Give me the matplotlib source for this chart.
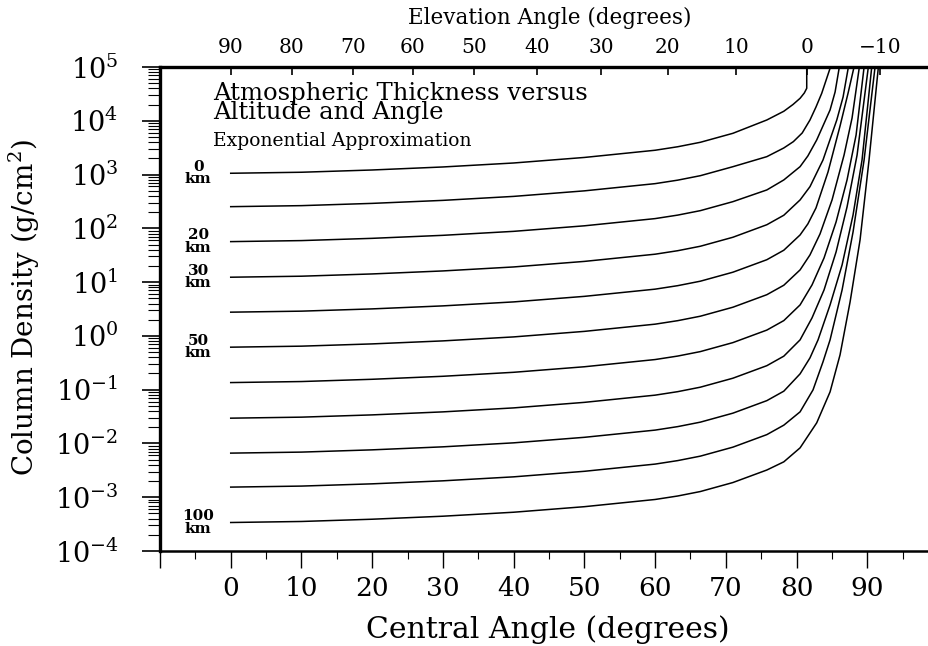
import numpy as np
import matplotlib
matplotlib.use("Agg")
import matplotlib.pyplot as plt
from matplotlib.ticker import LogLocator, LogFormatterMathtext, FixedLocator, MultipleLocator, NullFormatter

plt.rcParams['font.family'] = ['DejaVu Serif']
plt.rcParams['mathtext.fontset'] = 'dejavuserif'

# ---- data: central angle (deg) and column density (g/cm^2)
col_0km_x = [0, 10, 20, 30, 40, 50, 60, 63.2, 66.4, 71.0, 75.8, 78.2, 79.5, 80.5, 81.1, 81.44, 81.44]
col_0km = [1057, 1104, 1216, 1384, 1641, 2080, 2831, 3289, 3981, 5848, 10350, 15030, 20090, 26180, 32890, 40180, 1e5]

col_10km_x = [0, 10, 20, 30, 40, 50, 60, 63.2, 66.4, 71.0, 75.8, 78.2, 79.55, 80.8, 81.9, 82.75, 83.56, 84.8]
col_10km = [252.9, 264.2, 291.1, 331.1, 392.6, 497.7, 677.6, 787.0, 952.8, 1400, 2153, 3123, 4093, 5929, 10350, 18050, 32430, 1e5]

col_20km_x = [0, 10, 20, 30, 40, 50, 60, 63.2, 66.4, 71.0, 75.8, 78.2, 80.5, 81.6, 82.85, 84.74, 85.45, 86.05]
col_20km = [56.62, 59.16, 65.16, 74.13, 87.90, 111.4, 151.7, 176.2, 213.3, 313.3, 517.6, 794.3, 1403, 2218, 4395, 15890, 34280, 1e5]

col_30km_x = [0, 10, 20, 30, 40, 50, 60, 63.2, 66.4, 71.0, 75.8, 78.2, 80.5, 81.9, 83.74, 85.69, 86.58, 87.33]
col_30km = [12.33, 12.88, 14.19, 16.14, 19.14, 24.27, 33.04, 38.37, 46.45, 68.23, 116.7, 175.2, 337.3, 595.7, 1866, 10350, 27670, 1e5]

col_40km_x = [0, 10, 20, 30, 40, 50, 60, 63.2, 66.4, 71.0, 75.8, 78.2, 80.5, 81.6, 82.75, 84.45, 86.15, 87.29, 88.13]
col_40km = [2.761, 2.884, 3.177, 3.614, 4.285, 5.433, 7.396, 8.590, 10.40, 15.28, 26.09, 39.17, 75.34, 120.8, 239.3, 1117, 7998, 32890, 1e5]

col_50km_x = [0, 10, 20, 30, 40, 50, 60, 63.2, 66.4, 71.0, 75.8, 78.2, 80.5, 81.9, 83.32, 85.02, 86.72, 87.85, 88.88]
col_50km = [0.6166, 0.6442, 0.7096, 0.8072, 0.9572, 1.213, 1.652, 1.919, 2.323, 3.412, 5.834, 8.750, 16.87, 32.06, 78.70, 337.3, 2312, 11270, 1e5]

col_60km_x = [0, 10, 20, 30, 40, 50, 60, 63.2, 66.4, 71.0, 75.8, 78.2, 80.5, 82.19, 83.89, 85.59, 87.14, 88.42, 89.55]
col_60km = [0.1355, 0.1416, 0.1560, 0.1774, 0.2104, 0.2667, 0.3631, 0.4217, 0.5105, 0.7499, 1.282, 1.925, 3.767, 8.872, 28.18, 131.5, 794.3, 5445, 1e5]

col_70km_x = [0, 10, 20, 30, 40, 50, 60, 63.2, 66.4, 71.0, 75.8, 78.2, 80.5, 82.19, 83.89, 85.59, 87.14, 88.56, 90.15]
col_70km = [0.02951, 0.03083, 0.03396, 0.03864, 0.04581, 0.05808, 0.07907, 0.09183, 0.1112, 0.1633, 0.2793, 0.4198, 0.8433, 2.163, 7.161, 36.39, 250.0, 2312, 1e5]

col_80km_x = [0, 10, 20, 30, 40, 50, 60, 63.2, 66.4, 71.0, 75.8, 78.2, 80.5, 81.9, 83.04, 84.74, 86.44, 87.99, 89.26, 90.63]
col_80km = [0.006607, 0.006902, 0.007603, 0.008650, 0.01026, 0.01300, 0.01770, 0.02056, 0.02489, 0.03656, 0.06252, 0.09376, 0.1968, 0.3899, 0.8433, 3.767, 20.89, 177.4, 1866, 1e5]

col_90km_x = [0, 10, 20, 30, 40, 50, 60, 63.2, 66.4, 71.0, 75.8, 78.2, 80.5, 82.33, 83.74, 84.74, 86.44, 87.99, 89.55, 91.10]
col_90km = [0.001542, 0.001611, 0.001774, 0.002018, 0.002393, 0.003034, 0.004130, 0.004797, 0.005808, 0.008531, 0.01459, 0.02188, 0.03868, 0.09908, 0.3289, 0.8433, 7.161, 85.70, 1866, 1e5]

col_100km_x = [0, 10, 20, 30, 40, 50, 60, 63.2, 66.4, 71.0, 75.8, 78.2, 80.5, 82.85, 84.74, 86.15, 87.57, 88.98, 90.25, 91.57]
col_100km = [3.388e-4, 3.540e-4, 3.899e-4, 4.436e-4, 5.260e-4, 6.668e-4, 9.078e-4, 1.054e-3, 1.276e-3, 1.875e-3, 3.206e-3, 4.550e-3, 8.279e-3, 0.02415, 0.09099, 0.4436, 4.285, 60.88, 1866, 1e5]

curves_x = [col_0km_x, col_10km_x, col_20km_x, col_30km_x, col_40km_x, col_50km_x,
            col_60km_x, col_70km_x, col_80km_x, col_90km_x, col_100km_x]
curves_y = [col_0km, col_10km, col_20km, col_30km, col_40km, col_50km,
            col_60km, col_70km, col_80km, col_90km, col_100km]

labelled_alt = ['0', '20', '30', '50', '100']
labelled_idx = [0, 2, 3, 5, 10]

bottom_ticks = [-10, 0, 10, 20, 30, 40, 50, 60, 70, 80, 90]
elev_labels = ['90', '80', '70', '60', '50', '40', '30', '20', '10', '0', '\u221210']
elev_pos = [0, 8.62, 17.25, 25.77, 34.40, 43.26, 52.35, 61.78, 71.44, 81.44, 91.8]

# ---- figure
fig = plt.figure(figsize=(9.29, 6.46), dpi=100)
W, H = 929, 646
ax = fig.add_axes([160 / W, 1 - 551 / H, 778 / W, 484 / H])

for xs, ys in zip(curves_x, curves_y):
    ax.plot(xs, ys, color='black', lw=1.1, solid_joinstyle='round')

ax.set_yscale('log')
ax.set_ylim(1e-4, 1e5)
ax.set_xlim(-10, 100)

ax.yaxis.set_major_locator(LogLocator(base=10, numticks=20))
ax.yaxis.set_minor_locator(LogLocator(base=10, subs=np.arange(2, 10), numticks=20))
ax.yaxis.set_major_formatter(LogFormatterMathtext())
ax.yaxis.set_minor_formatter(NullFormatter())

ax.xaxis.set_major_locator(FixedLocator(bottom_ticks))
ax.xaxis.set_minor_locator(MultipleLocator(5))
ax.set_xticklabels(['' if t < 0 else str(t) for t in bottom_ticks])

ax.tick_params(axis='y', which='major', direction='out', length=13, width=1.2,
               labelsize=19.5, pad=17, right=False)
ax.tick_params(axis='y', which='minor', direction='out', length=9, width=0.8, right=False)
ax.tick_params(axis='x', which='major', direction='out', length=12, width=1.0,
               labelsize=19, pad=6, top=False)
ax.tick_params(axis='x', which='minor', direction='out', length=6, width=0.8, top=False)

for side in ['left', 'top']:
    ax.spines[side].set_linewidth(2.4)
ax.spines['bottom'].set_linewidth(1.8)
ax.spines['right'].set_linewidth(1.8)

# top axis: elevation angle
axt = ax.twiny()
axt.set_xlim(ax.get_xlim())
axt.set_xticks(elev_pos)
axt.set_xticklabels(elev_labels)
axt.tick_params(axis='x', which='major', direction='in', length=6, width=1.2,
                labelsize=14.5, pad=7)
axt.tick_params(axis='x', which='minor', bottom=False, top=False)
for s in axt.spines.values():
    s.set_visible(False)

# texts
ax.text(0.068, 0.970, 'Atmospheric Thickness versus\nAltitude and Angle',
        transform=ax.transAxes, ha='left', va='top', fontsize=17.5, linespacing=0.8)
ax.text(0.068, 0.866, 'Exponential Approximation', transform=ax.transAxes,
        ha='left', va='top', fontsize=13.5)

for name, idx in zip(labelled_alt, labelled_idx):
    ax.text(-4.6, curves_y[idx][0], name + '\nkm', ha='center', va='center',
            fontsize=11, fontweight='bold', linespacing=0.85)

fig.text(550 / W, 1 - 18 / H, 'Elevation Angle (degrees)', ha='center', va='center', fontsize=15.5)
fig.text(548 / W, 1 - 630 / H, 'Central Angle (degrees)', ha='center', va='center', fontsize=21.5)
fig.text(24 / W, 1 - 308 / H, 'Column Density (g/cm$^2$)', ha='center', va='center',
         rotation=90, fontsize=20)

fig.savefig('out.png', dpi=100)
